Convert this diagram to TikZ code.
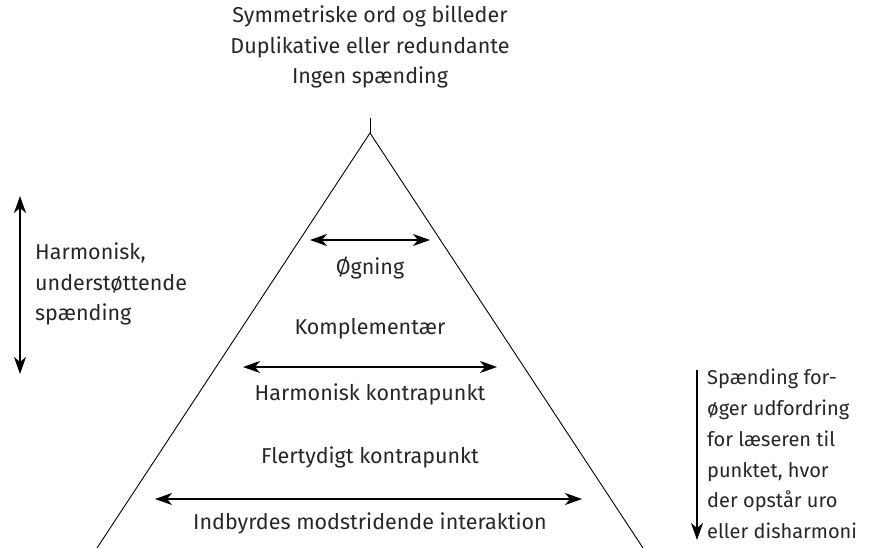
\documentclass[tikz,border=0pt]{standalone}
\usepackage{fontspec}
\setmainfont{Fira Sans}
\usetikzlibrary{arrows.meta}
\begin{document}
\begin{tikzpicture}[x=1pt,y=-1pt,
  lbl/.style={font=\fontsize{21.5}{30.5}\selectfont, inner sep=0pt, text=black!85},
  rlbl/.style={font=\fontsize{20}{30.8}\selectfont, inner sep=0pt, text=black!85},
  dbl/.style={{Stealth[length=17pt,width=12pt,inset=5pt]}-{Stealth[length=17pt,width=12pt,inset=5pt]}, line width=1.2pt},
  sgl/.style={-{Stealth[length=17pt,width=12pt,inset=5pt]}, line width=1.2pt},
  tri/.style={line width=0.9pt}]
\useasboundingbox (0,0) rectangle (875,548);
% triangle
\coordinate (apex) at (370,133);
\coordinate (tick) at (370,118);
\coordinate (bl) at (97,548);
\coordinate (br) at (643,548);
\draw[tri] (bl) -- (apex) -- (br);
\draw[tri] (apex) -- (tick);
% top text
\node[lbl, align=center, anchor=north] (top) at (370,6) {Symmetriske ord og billeder\\Duplikative eller redundante\\Ingen spænding};
% inner arrows and labels
\coordinate (a1l) at (310,240); \coordinate (a1r) at (430,240);
\draw[dbl] (a1l) -- (a1r);
\node[lbl] (oeg) at (370,268) {Øgning};
\node[lbl] (komp) at (370,329) {Komplementær};
\coordinate (a2l) at (243,367); \coordinate (a2r) at (497,367);
\draw[dbl] (a2l) -- (a2r);
\node[lbl] (hk) at (370,394) {Harmonisk kontrapunkt};
\node[lbl] (fk) at (370,457) {Flertydigt kontrapunkt};
\coordinate (a3l) at (155,499); \coordinate (a3r) at (582,499);
\draw[dbl] (a3l) -- (a3r);
\node[lbl] (ind) at (370,523) {Indbyrdes modstridende interaktion};
% left side
\coordinate (lt) at (20,196); \coordinate (lb) at (20,374);
\draw[dbl] (lt) -- (lb);
\node[lbl, align=left, anchor=west] (harm) at (35,284) {Harmonisk,\\understøttende\\spænding};
% right side
\coordinate (rt) at (697,370); \coordinate (rb) at (697,540);
\draw[sgl] (rt) -- (rb);
\node[rlbl, align=left, anchor=west] (spaend) at (707,454) {Spænding for-\\øger udfordring\\for læseren til\\punktet, hvor\\der opstår uro\\eller disharmoni};
\end{tikzpicture}
\end{document}
